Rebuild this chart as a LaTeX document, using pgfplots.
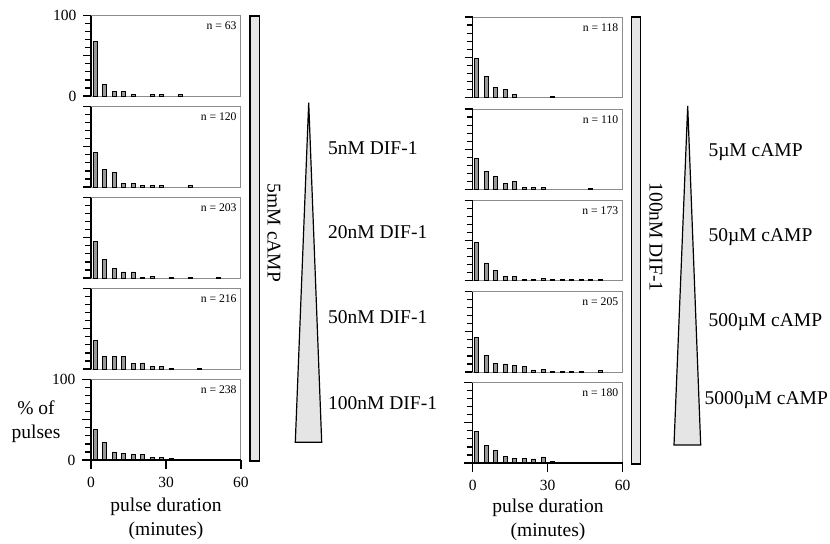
\documentclass[border=0pt]{standalone}
\usepackage{fontspec}
\setmainfont{Liberation Serif}
\usepackage{pgfplots}
\pgfplotsset{compat=1.18}
\definecolor{panelgray}{gray}{0.55}
\definecolor{bargray}{gray}{0.6}
\definecolor{lightg}{gray}{0.9}
\pgfplotsset{
  panel/.style={
    scale only axis, width=150bp, height=80.5bp,
    xmin=0, xmax=60, ymin=0, ymax=100,
    ybar, bar width=4bp,
    axis line style={draw=panelgray, line width=1bp},
    tick align=outside, tick pos=left,
    ytick={0,50,100}, minor ytick={10,20,30,40,60,70,80,90},
    yticklabels={},
    xtick=\empty,
    major tick length=8bp, minor tick length=6bp,
    major tick style={black, line width=1.2bp},
    minor tick style={black, line width=1.2bp},
    /pgf/number format/assume math mode=true,
    tick label style={font=\fontsize{15.5bp}{18bp}\selectfont},
    yticklabel style={xshift=-3bp},
    xticklabel style={yshift=-5bp},
    clip=false,
    extra description/.code={\draw[black, line width=1.2bp] (rel axis cs:0,0) -- (rel axis cs:0,1);},
  },
  bottompanel/.style={
    xtick={0,30,60}, major tick length=9bp,
    extra description/.code={\draw[black, line width=1.2bp] (rel axis cs:0,1) -- (rel axis cs:0,0) -- (rel axis cs:1,0);},
  },
  hb/.style={fill=bargray, draw=black, line width=0.9bp},
}
\newcommand{\nlab}[1]{\node[anchor=north east, inner sep=0pt, font=\fontsize{11.7bp}{14bp}\selectfont] at (rel axis cs:0.972,0.925) {#1};}
\begin{document}
\begin{tikzpicture}
\useasboundingbox (0,0) rectangle (830bp,-544bp);
% ---------- left column ----------
\begin{axis}[panel, at={(91bp,-96bp)}, anchor=south west, yticklabels={0,,100}]
\addplot[hb] coordinates {(1.6,68) (5.4,14) (9.2,6) (13.0,6) (16.8,1.6) (24.4,1.6) (28.2,1.6) (35.8,1.6)};
\nlab{n = 63}
\end{axis}
\begin{axis}[panel, at={(91bp,-187bp)}, anchor=south west]
\addplot[hb] coordinates {(1.6,43) (5.4,22) (9.2,18) (13.0,4.5) (16.8,4.5) (20.6,1.5) (24.4,1.5) (28.2,1.5) (39.6,1.5)};
\nlab{n = 120}
\end{axis}
\begin{axis}[panel, at={(91bp,-278bp)}, anchor=south west]
\addplot[hb] coordinates {(1.6,45) (5.4,23) (9.2,12) (13.0,7.5) (16.8,7.5) (20.6,1) (24.4,1.5) (32.0,1) (39.6,1) (51.0,1)};
\nlab{n = 203}
\end{axis}
\begin{axis}[panel, at={(91bp,-369bp)}, anchor=south west]
\addplot[hb] coordinates {(1.6,35) (5.4,15) (9.2,15) (13.0,15) (16.8,6.5) (20.6,7.5) (24.4,3.5) (28.2,3.5) (32.0,1) (43.4,1)};
\nlab{n = 216}
\end{axis}
\begin{axis}[panel, bottompanel, at={(91bp,-460bp)}, anchor=south west, yticklabels={0,,100}]
\addplot[hb] coordinates {(1.6,37.5) (5.4,21.5) (9.2,10) (13.0,8) (16.8,6.5) (20.6,6.5) (24.4,3.5) (28.2,3.5) (32.0,1.5) (39.6,1) (47.2,1) (51.0,1)};
\nlab{n = 238}
\end{axis}
% ---------- right column ----------
\begin{axis}[panel, at={(472.7bp,-97.5bp)}, anchor=south west]
\addplot[hb] coordinates {(1.6,49) (5.4,26.5) (9.2,12) (13.0,9.5) (16.8,3.5) (32.0,1.5)};
\nlab{n = 118}
\end{axis}
\begin{axis}[panel, at={(472.7bp,-189.5bp)}, anchor=south west]
\addplot[hb] coordinates {(1.6,38) (5.4,22) (9.2,16) (13.0,8) (16.8,10) (20.6,2.5) (24.4,2) (28.2,3) (47.2,1.5)};
\nlab{n = 110}
\end{axis}
\begin{axis}[panel, at={(472.7bp,-280.7bp)}, anchor=south west]
\addplot[hb] coordinates {(1.6,47) (5.4,22) (9.2,13) (13.0,5) (16.8,5.5) (20.6,2) (24.4,2) (28.2,3) (32.0,1) (35.8,1) (39.6,1) (43.4,1) (47.2,1) (51.0,1)};
\nlab{n = 173}
\end{axis}
\begin{axis}[panel, at={(472.7bp,-372bp)}, anchor=south west]
\addplot[hb] coordinates {(1.6,43) (5.4,20.5) (9.2,11) (13.0,10) (16.8,8) (20.6,6.5) (24.4,2.5) (28.2,3.5) (32.0,1) (35.8,1) (39.6,1) (43.4,1) (51.0,1.5)};
\nlab{n = 205}
\end{axis}
\begin{axis}[panel, bottompanel, at={(472.7bp,-463bp)}, anchor=south west]
\addplot[hb] coordinates {(1.6,39) (5.4,21.5) (9.2,15.5) (13.0,8) (16.8,5.5) (20.6,6) (24.4,5) (28.2,7.5) (32.0,1.5) (39.6,1)};
\nlab{n = 180}
\end{axis}
% ---------- annotations ----------
\begin{scope}[every node/.style={font=\fontsize{19.5bp}{24bp}\selectfont, inner sep=0pt}]
\node[align=center] at (36bp,-422bp) {\% of\\pulses};
\node[align=center] at (166bp,-518.7bp) {pulse duration\\(minutes)};
\node[align=center] at (548bp,-520bp) {pulse duration\\(minutes)};
\draw[fill=lightg, line width=1.2bp] (250bp,-16bp) rectangle (259.5bp,-461bp);
\draw[fill=lightg, line width=1.2bp] (631.7bp,-17bp) rectangle (640.7bp,-464bp);
\node[rotate=-90] at (274bp,-233bp) {5mM cAMP};
\node[rotate=-90] at (656bp,-237bp) {100nM DIF-1};
\draw[fill=lightg, line width=1.2bp, line join=miter] (308.7bp,-102.7bp) -- (321.7bp,-442.3bp) -- (295.3bp,-442.3bp) -- cycle;
\draw[fill=lightg, line width=1.2bp, line join=miter] (687.7bp,-106bp) -- (700.7bp,-445bp) -- (674bp,-445bp) -- cycle;
\node[anchor=west] at (328bp,-148bp) {5nM DIF-1};
\node[anchor=west] at (328bp,-232bp) {20nM DIF-1};
\node[anchor=west] at (328bp,-317bp) {50nM DIF-1};
\node[anchor=west] at (328bp,-403bp) {100nM DIF-1};
\node[anchor=west] at (708.3bp,-152bp) {5µM cAMP};
\node[anchor=west] at (708.3bp,-237bp) {50µM cAMP};
\node[anchor=west] at (708.3bp,-322bp) {500µM cAMP};
\node[anchor=west] at (704.3bp,-400bp) {5000µM cAMP};
\end{scope}
\end{tikzpicture}
\end{document}
